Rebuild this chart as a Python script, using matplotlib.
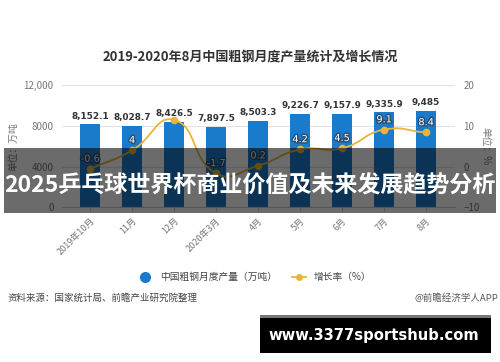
import matplotlib
matplotlib.use("agg")
import matplotlib.pyplot as plt
import matplotlib.patheffects as pe
from matplotlib.path import Path
from matplotlib.patches import PathPatch, Rectangle
from matplotlib.lines import Line2D
import numpy as np

plt.rcParams['font.family'] = ['Noto Sans CJK SC', 'DejaVu Sans']

months = ['2019年10月', '11月', '12月', '2020年3月', '4月', '5月', '6月', '7月', '8月']
output = [8152.1, 8028.7, 8426.5, 7897.5, 8503.3, 9226.7, 9157.9, 9335.9, 9485]
growth = [-0.6, 4, 11.5, -1.7, 0.2, 4.2, 4.5, 9.1, 8.4]
growth_shown = [True, True, False, True, True, True, True, True, True]

left_ticks = [0, 4000, 8000, 12000]
left_labels = ['0', '4000', '8000', '12,000']
right_ticks = [-10, 0, 10, 20]

title = '2019-2020年8月中国粗钢月度产量统计及增长情况'
banner = '2025乒乓球世界杯商业价值及未来发展趋势分析'

bar_color = '#1a7acb'
line_color = '#e8b53a'
grey = '#777777'

fig = plt.figure(figsize=(5, 3.62), dpi=100)
ax = fig.add_axes([0.124, 0.428, 0.786, 0.336])
x = np.arange(len(months))

ax.bar(x, output, width=0.48, color=bar_color, zorder=2)
for xi, v in zip(x, output):
    txt = f"{v:,.1f}"
    if txt.endswith('.0'):
        txt = txt[:-2]
    ax.text(xi, v + 380, txt, ha='center', va='bottom', fontsize=6.4,
            fontweight='bold', color='#333333', family='DejaVu Sans')

ax.set_xlim(-0.67, len(months) - 1 + 0.69)
ax.set_ylim(0, 12000)
ax.set_yticks(left_ticks)
ax.set_yticklabels(left_labels)
ax.grid(axis='y', color='#e3e3e3', linewidth=0.8, zorder=0)
for s in ['top', 'left', 'right']:
    ax.spines[s].set_visible(False)
ax.spines['bottom'].set_color('#cccccc')
ax.tick_params(axis='y', length=0, labelsize=7, colors=grey, pad=6)
ax.tick_params(axis='x', length=3, color='#cccccc', labelsize=6.5, labelcolor=grey)
ax.set_xticks(x)
ax.set_xticklabels(months, rotation=45, ha='right', rotation_mode='anchor')
ax.set_ylabel('单位：万吨', fontsize=7, color=grey, labelpad=4)

ax2 = ax.twinx()
ax2.set_ylim(-10, 20)
ax2.set_yticks(right_ticks)
for s in ['top', 'left', 'right', 'bottom']:
    ax2.spines[s].set_visible(False)
ax2.tick_params(axis='y', length=0, labelsize=7, colors=grey, pad=6)
ax2.set_ylabel('单位：%', fontsize=7, color=grey, rotation=-90, labelpad=8)

# smooth line (echarts-like bezier), computed in pixel-ish space
sx, sy = 42.0, 4.0
pts = np.column_stack([x * sx, np.array(growth) * sy])
n = len(pts)
cps0, cps1 = [], []
for i in range(n):
    p = pts[i]
    prev = pts[i - 1] if i > 0 else p
    nxt = pts[i + 1] if i < n - 1 else p
    v = (nxt - prev) * 0.5
    d0 = np.hypot(*(p - prev))
    d1 = np.hypot(*(p - nxt))
    tot = d0 + d1
    if tot:
        d0, d1 = d0 / tot, d1 / tot
    cps0.append(p - v * d0)
    cps1.append(p + v * d1)
verts = [pts[0]]
codes = [Path.MOVETO]
for i in range(n - 1):
    verts += [cps1[i], cps0[i + 1], pts[i + 1]]
    codes += [Path.CURVE4] * 3
verts = np.array(verts) / np.array([sx, sy])
ax2.add_patch(PathPatch(Path(verts, codes), fill=False, edgecolor=line_color,
                        linewidth=1.3, zorder=3))
ax2.plot(x, growth, linestyle='none', marker='o', markersize=4.5,
         color=line_color, zorder=4)
for xi, g, show in zip(x, growth, growth_shown):
    if not show:
        continue
    ax2.text(xi, g + 1.3, f"{g:g}", ha='center', va='bottom', fontsize=7,
             color='white', family='DejaVu Sans', zorder=5,
             path_effects=[pe.withStroke(linewidth=2, foreground='#2a4d6e')])

fig.text(0.5, 0.84, title, ha='center', va='center', fontsize=9.4,
         fontweight='bold', color='#333333')

handles = [
    Line2D([], [], linestyle='none', marker='o', markersize=7, color=bar_color),
    Line2D([], [], color=line_color, marker='o', markersize=4, linewidth=1.3),
]
fig.legend(handles, ['中国粗钢月度产量（万吨）', '增长率（%）'], loc='center',
           bbox_to_anchor=(0.51, 0.235), ncol=2, frameon=False, fontsize=7,
           handlelength=1.4, columnspacing=1.6, labelcolor='#444444')

fig.text(0.014, 0.177, '资料来源：国家统计局、前瞻产业研究院整理', ha='left',
         va='center', fontsize=6.8, color='#444444')
fig.text(0.996, 0.177, '@前瞻经济学人APP', ha='right', va='center',
         fontsize=6.8, color='#555555')

# overlay banner
fig.patches.append(Rectangle((0.008, 0.412), 0.984, 0.179, transform=fig.transFigure,
                             facecolor='black', alpha=0.58, zorder=10))
fig.text(0.5, 0.487, banner, ha='center', va='center', fontsize=16.6,
         fontweight='bold', color='white', zorder=11)

# footer box
fig.patches.append(Rectangle((0.52, 0.025), 0.462, 0.105, transform=fig.transFigure,
                             facecolor='black', zorder=10))
fig.patches.append(Rectangle((0.52, 0.122), 0.462, 0.008, transform=fig.transFigure,
                             facecolor='#777777', zorder=11))
fig.text(0.748, 0.072, 'www.3377sportshub.com', ha='center', va='center',
         fontsize=10.6, fontweight='bold', color='white', family='DejaVu Sans',
         zorder=12)

fig.savefig('out.png', dpi=100)
